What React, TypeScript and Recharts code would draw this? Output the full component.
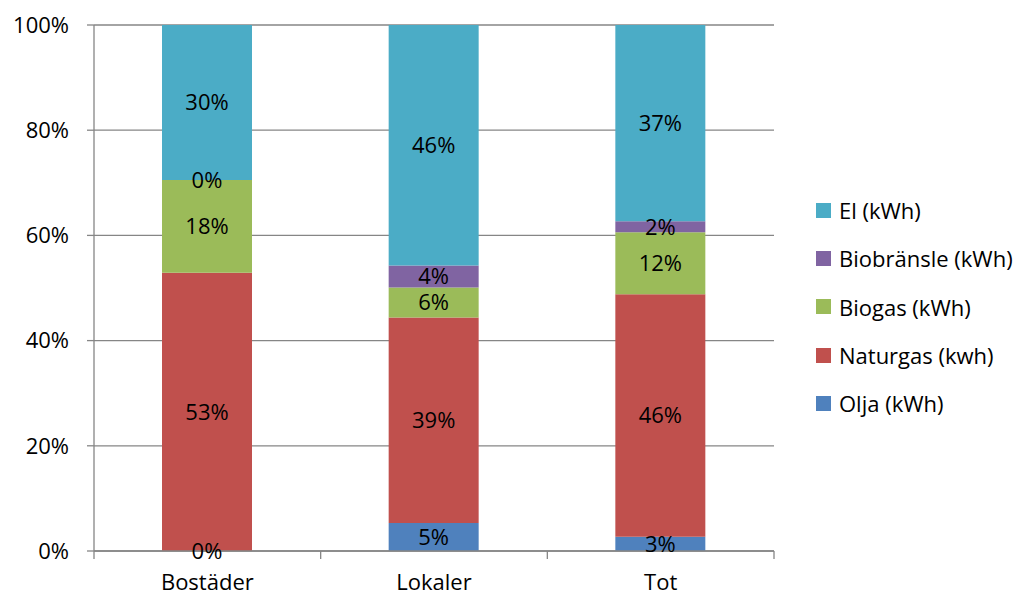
import React from "react";
import { BarChart, Bar, XAxis, YAxis, CartesianGrid, LabelList } from "recharts";

const categories = ["Bostäder", "Lokaler", "Tot"];
const olja = [0.01, 5.3, 2.7];
const naturgas = [52.9, 39.1, 46.1];
const biogas = [17.6, 5.7, 11.8];
const biobransle = [0.01, 4.2, 2.1];
const el = [29.5, 45.7, 37.3];
const yTicks = [0, 20, 40, 60, 80, 100];

const series = [
  { key: "olja", name: "Olja (kWh)", color: "#4F81BD", values: olja },
  { key: "naturgas", name: "Naturgas (kwh)", color: "#C0504D", values: naturgas },
  { key: "biogas", name: "Biogas (kWh)", color: "#9BBB59", values: biogas },
  { key: "biobransle", name: "Biobränsle (kWh)", color: "#8064A2", values: biobransle },
  { key: "el", name: "El (kWh)", color: "#4BACC6", values: el },
];

const data = categories.map((c, i) => {
  const row: any = { name: c };
  series.forEach((s) => (row[s.key] = s.values[i]));
  return row;
});

const FONT = "'Open Sans', Lato, sans-serif";
const AXIS = "#868686";
const FS = 22;

const XTick = (props: any) => {
  const { x, y, payload, index, visibleTicksCount } = props;
  const off = payload.offset || 0;
  return (
    <g>
      <line x1={x - off} x2={x - off} y1={y} y2={y + 8} stroke={AXIS} strokeWidth={1.3} />
      {index === visibleTicksCount - 1 && (
        <line x1={x + off} x2={x + off} y1={y} y2={y + 8} stroke={AXIS} strokeWidth={1.3} />
      )}
      <text x={x} y={y + 39} textAnchor="middle" fontFamily={FONT} fontSize={FS} fill="#000">
        {payload.value}
      </text>
    </g>
  );
};

export default function App() {
  return (
    <div style={{ position: "absolute", left: 0, top: 0, width: 1026, height: 595, background: "#fff" }}>
      <BarChart
        width={1026}
        height={595}
        data={data}
        margin={{ top: 25, right: 252, bottom: 0, left: 0 }}
        barSize={90}
      >
        <CartesianGrid vertical={false} stroke={AXIS} strokeWidth={1.3} />
        <XAxis
          dataKey="name"
          height={44}
          tickLine={false}
          tickSize={0}
          tickMargin={0}
          stroke={AXIS}
          strokeWidth={1.3}
          tick={<XTick />}
          interval={0}
        />
        <YAxis
          width={94}
          domain={[0, 100]}
          ticks={yTicks}
          tickFormatter={(v: number) => `${v}%`}
          stroke={AXIS}
          strokeWidth={1.3}
          tickSize={7}
          tickMargin={18}
          tick={{ fill: "#000", fontFamily: FONT, fontSize: FS }}
          allowDataOverflow
        />
        {series.map((s) => (
          <Bar key={s.key} dataKey={s.key} name={s.name} stackId="a" fill={s.color} isAnimationActive={false}>
            <LabelList
              dataKey={s.key}
              position="center"
              formatter={(v: any) => `${Math.round(Number(v))}%`}
              fill="#000"
              fontFamily={FONT}
              fontSize={FS}
            />
          </Bar>
        ))}
      </BarChart>
      <div
        style={{
          position: "absolute",
          left: 816,
          top: 186,
          fontFamily: FONT,
          fontSize: FS,
          color: "#000",
          whiteSpace: "nowrap",
        }}
      >
        {[...series].reverse().map((s) => (
          <div key={s.key} style={{ display: "flex", alignItems: "center", height: 48.3 }}>
            <span style={{ display: "inline-block", width: 15, height: 15, background: s.color, marginRight: 8 }} />
            <span>{s.name}</span>
          </div>
        ))}
      </div>
    </div>
  );
}
